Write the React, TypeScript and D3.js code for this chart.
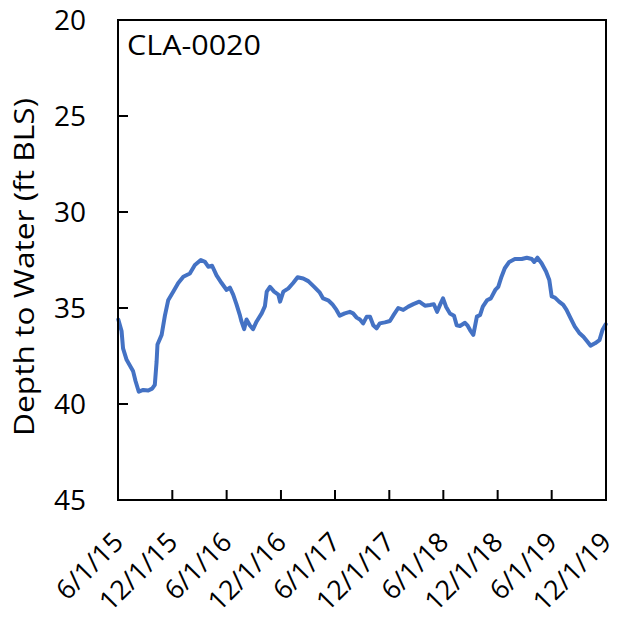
import React from "react";
import * as d3 from "d3";

const stationLabel = "CLA-0020";
const yAxisTitle = "Depth to Water (ft BLS)";
const yTicks = [20, 25, 30, 35, 40, 45];
const xTickDates = ["2015-06-01", "2015-12-01", "2016-06-01", "2016-12-01", "2017-06-01", "2017-12-01", "2018-06-01", "2018-12-01", "2019-06-01", "2019-12-01"];
const xTickLabels = ["6/1/15", "12/1/15", "6/1/16", "12/1/16", "6/1/17", "12/1/17", "6/1/18", "12/1/18", "6/1/19", "12/1/19"];

const dates = [
  "2015-06-02", "2015-06-13", "2015-06-18", "2015-06-30", "2015-07-11", "2015-07-22", "2015-07-30", "2015-08-10", "2015-08-25", "2015-09-11",
  "2015-09-24", "2015-10-03", "2015-10-09", "2015-10-12", "2015-10-26", "2015-11-06", "2015-11-17", "2015-12-04", "2015-12-21", "2016-01-07",
  "2016-01-29", "2016-02-15", "2016-03-06", "2016-03-20", "2016-03-31", "2016-04-13", "2016-04-28", "2016-05-15", "2016-06-01", "2016-06-12",
  "2016-06-23", "2016-07-04", "2016-07-16", "2016-07-21", "2016-07-30", "2016-08-07", "2016-08-18", "2016-08-29", "2016-09-10", "2016-09-27",
  "2016-10-08", "2016-10-14", "2016-10-25", "2016-11-08", "2016-11-22", "2016-11-28", "2016-12-09", "2016-12-26", "2017-01-11", "2017-01-26",
  "2017-02-14", "2017-03-03", "2017-03-23", "2017-04-11", "2017-04-22", "2017-05-09", "2017-05-23", "2017-06-06", "2017-06-17", "2017-07-04",
  "2017-07-21", "2017-08-01", "2017-08-13", "2017-08-24", "2017-09-04", "2017-09-16", "2017-09-27", "2017-10-08", "2017-10-19", "2017-10-30",
  "2017-11-16", "2017-12-03", "2017-12-14", "2017-12-31", "2018-01-17", "2018-02-03", "2018-02-20", "2018-03-12", "2018-03-31", "2018-04-17",
  "2018-04-30", "2018-05-11", "2018-05-23", "2018-05-31", "2018-06-10", "2018-06-23", "2018-07-07", "2018-07-16", "2018-07-27", "2018-08-13",
  "2018-08-21", "2018-08-30", "2018-09-10", "2018-09-22", "2018-10-03", "2018-10-12", "2018-10-26", "2018-11-08", "2018-11-23", "2018-12-03",
  "2018-12-14", "2018-12-25", "2019-01-09", "2019-01-28", "2019-02-20", "2019-03-09", "2019-03-26", "2019-04-03", "2019-04-14", "2019-04-28",
  "2019-05-13", "2019-05-24", "2019-06-01", "2019-06-12", "2019-06-26", "2019-07-10", "2019-07-21", "2019-08-04", "2019-08-18", "2019-09-02",
  "2019-09-16", "2019-09-29", "2019-10-10", "2019-10-25", "2019-11-09", "2019-11-19", "2019-11-30",
];

const depths = [
  35.6, 36.2, 37.1, 37.7, 38.0, 38.3, 38.8, 39.36, 39.27, 39.3,
  39.2, 39.0, 37.8, 36.9, 36.4, 35.4, 34.6, 34.15, 33.7, 33.37,
  33.2, 32.76, 32.5, 32.6, 32.85, 32.8, 33.3, 33.7, 34.06, 33.94,
  34.3, 34.8, 35.4, 35.7, 36.1, 35.6, 35.9, 36.1, 35.7, 35.28,
  34.9, 34.15, 33.9, 34.15, 34.3, 34.67, 34.15, 33.98, 33.7, 33.4,
  33.46, 33.6, 33.9, 34.2, 34.5, 34.6, 34.8, 35.1, 35.4, 35.28,
  35.2, 35.28, 35.5, 35.6, 35.8, 35.45, 35.45, 35.9, 36.06, 35.8,
  35.75, 35.68, 35.4, 35.0, 35.1, 34.93, 34.8, 34.67, 34.88, 34.84,
  34.8, 35.2, 34.76, 34.5, 34.93, 35.28, 35.4, 35.9, 35.94, 35.77,
  35.9, 36.15, 36.4, 35.45, 35.36, 34.93, 34.6, 34.5, 34.06, 33.9,
  33.37, 32.93, 32.6, 32.45, 32.45, 32.38, 32.45, 32.6, 32.38, 32.67,
  33.1, 33.54, 34.4, 34.46, 34.67, 34.84, 35.1, 35.54, 35.97, 36.3,
  36.5, 36.75, 36.96, 36.84, 36.67, 36.15, 35.85,
];

const W = 623;
const H = 624;
const M = { left: 118, right: 606, top: 20, bottom: 500 };
const FONT = "'Open Sans', sans-serif";

export default function App() {
  const parse = d3.utcParse("%Y-%m-%d");
  const x = d3
    .scaleUtc()
    .domain([parse(xTickDates[0])!, parse(xTickDates[xTickDates.length - 1])!])
    .range([M.left, M.right]);
  const y = d3.scaleLinear().domain([20, 45]).range([M.top, M.bottom]);

  const pts = dates.map((d, i) => ({ date: parse(d)!, v: depths[i] }));
  const line = d3
    .line<{ date: Date; v: number }>()
    .x((d) => x(d.date))
    .y((d) => y(d.v))
    .curve(d3.curveLinear);

  return (
    <svg
      width={W}
      height={H}
      style={{ position: "absolute", left: 0, top: 0, background: "#fff" }}
      fontFamily={FONT}
    >
      <rect x={0} y={0} width={W} height={H} fill="#fff" />
      <path d={line(pts) || ""} fill="none" stroke="#4472C4" strokeWidth={4} strokeLinejoin="round" strokeLinecap="round" />
      <rect x={M.left} y={M.top} width={M.right - M.left} height={M.bottom - M.top} fill="none" stroke="#000" strokeWidth={2} />
      {yTicks.map((t) => (
        <g key={t}>
          {t !== 20 && t !== 45 && (
            <line x1={M.left} x2={M.left + 10} y1={y(t)} y2={y(t)} stroke="#000" strokeWidth={2} />
          )}
          <text x={86} y={y(t)} dy="0.36em" textAnchor="end" fontSize={28} fill="#000">
            {t}
          </text>
        </g>
      ))}
      {xTickDates.map((d, i) => {
        const tx = x(parse(d)!);
        return (
          <g key={d}>
            {i !== 0 && i !== xTickDates.length - 1 && (
              <line x1={tx} x2={tx} y1={M.bottom} y2={M.bottom - 10} stroke="#000" strokeWidth={2} />
            )}
            <text
              transform={`translate(${tx},${537}) rotate(-45)`}
              dy="0.36em"
              textAnchor="end"
              fontSize={27}
              fill="#000"
            >
              {xTickLabels[i]}
            </text>
          </g>
        );
      })}
      <text x={127} y={55} fontSize={28} fill="#000" textLength={134} lengthAdjust="spacingAndGlyphs">
        {stationLabel}
      </text>
      <text
        transform={`translate(${34},${267}) rotate(-90)`}
        textAnchor="middle"
        fontSize={28}
        fill="#000"
        textLength={338}
        lengthAdjust="spacingAndGlyphs"
      >
        {yAxisTitle}
      </text>
    </svg>
  );
}
